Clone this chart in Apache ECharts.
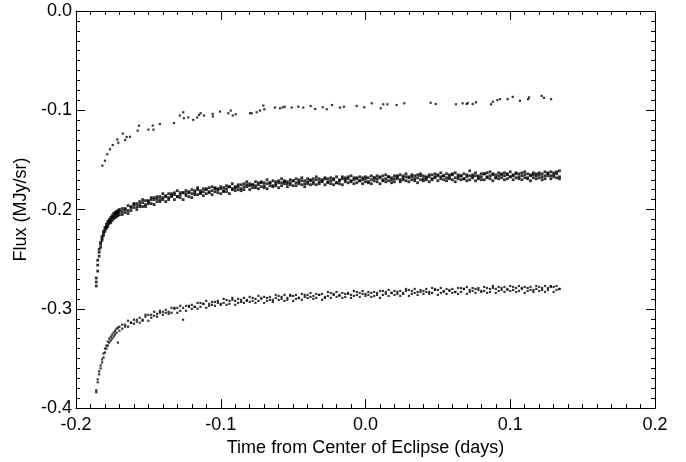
<!DOCTYPE html>
<html>
<head>
<meta charset="utf-8">
<script src="https://cdn.jsdelivr.net/npm/echarts@6/dist/echarts.min.js"></script>
<style>
html, body { margin: 0; padding: 0; background: #fff; }
#chart { width: 686px; height: 462px; }
</style>
</head>
<body>
<div id="chart"></div>
<script>
// Eclipse light curves.
// Time samples (days from center of eclipse) shared by the two dense bands
var times = [
    -0.186,-0.185,-0.184,-0.183,-0.182,-0.181,-0.180,-0.179,-0.178,-0.177,-0.176,-0.175,-0.174,-0.173,-0.172,-0.171,-0.170,
    -0.168,-0.166,-0.164,-0.162,-0.160,-0.158,-0.156,-0.154,-0.152,-0.150,
    -0.148,-0.146,-0.144,-0.142,-0.140,-0.138,-0.136,-0.134,-0.132,-0.130,
    -0.128,-0.126,-0.124,-0.122,-0.120,-0.118,-0.116,-0.114,-0.112,-0.110,
    -0.108,-0.106,-0.104,-0.102,-0.100,-0.098,-0.096,-0.094,-0.092,-0.090,
    -0.088,-0.086,-0.084,-0.082,-0.080,-0.078,-0.076,-0.074,-0.072,-0.070,
    -0.068,-0.066,-0.064,-0.062,-0.060,-0.058,-0.056,-0.054,-0.052,-0.050,
    -0.048,-0.046,-0.044,-0.042,-0.040,-0.038,-0.036,-0.034,-0.032,-0.030,
    -0.028,-0.026,-0.024,-0.022,-0.020,-0.018,-0.016,-0.014,-0.012,-0.010,
    -0.008,-0.006,-0.004,-0.002,0.000,0.002,0.004,0.006,0.008,0.010,
    0.012,0.014,0.016,0.018,0.020,0.022,0.024,0.026,0.028,0.030,
    0.032,0.034,0.036,0.038,0.040,0.042,0.044,0.046,0.048,0.050,
    0.052,0.054,0.056,0.058,0.060,0.062,0.064,0.066,0.068,0.070,
    0.072,0.074,0.076,0.078,0.080,0.082,0.084,0.086,0.088,0.090,
    0.092,0.094,0.096,0.098,0.100,0.102,0.104,0.106,0.108,0.110,
    0.112,0.114,0.116,0.118,0.120,0.122,0.124,0.126,0.128,0.130,
    0.132,0.134
];

// middle band (three overlapping channels)
var midA = [
    -0.277,-0.262,-0.247,-0.238,-0.231,-0.226,-0.222,-0.219,-0.217,-0.214,-0.213,-0.211,-0.209,-0.208,-0.207,-0.206,-0.205,
    -0.199,-0.199,-0.196,-0.197,-0.194,-0.194,-0.192,-0.190,-0.191,-0.191,
    -0.188,-0.188,-0.187,-0.187,-0.184,-0.187,-0.184,-0.184,-0.183,-0.181,
    -0.183,-0.183,-0.181,-0.182,-0.180,-0.181,-0.178,-0.181,-0.179,-0.179,
    -0.178,-0.177,-0.178,-0.179,-0.177,-0.178,-0.176,-0.177,-0.174,-0.177,
    -0.175,-0.175,-0.174,-0.172,-0.174,-0.175,-0.172,-0.173,-0.172,-0.173,
    -0.170,-0.173,-0.171,-0.172,-0.171,-0.169,-0.171,-0.172,-0.170,-0.171,
    -0.169,-0.170,-0.168,-0.171,-0.169,-0.170,-0.169,-0.167,-0.169,-0.170,
    -0.168,-0.169,-0.168,-0.169,-0.167,-0.170,-0.167,-0.168,-0.167,-0.166,
    -0.168,-0.169,-0.167,-0.168,-0.167,-0.168,-0.166,-0.168,-0.166,-0.167,
    -0.166,-0.165,-0.167,-0.168,-0.166,-0.166,-0.165,-0.166,-0.164,-0.167,
    -0.165,-0.166,-0.165,-0.164,-0.166,-0.167,-0.165,-0.165,-0.164,-0.165,
    -0.163,-0.166,-0.164,-0.165,-0.164,-0.163,-0.165,-0.166,-0.164,-0.165,
    -0.161,-0.165,-0.163,-0.166,-0.164,-0.164,-0.163,-0.162,-0.164,-0.165,
    -0.163,-0.164,-0.163,-0.164,-0.162,-0.165,-0.163,-0.164,-0.163,-0.162,
    -0.164,-0.165,-0.163,-0.164,-0.163,-0.164,-0.162,-0.164,-0.162,-0.163,
    -0.162,-0.161
];
var midB = [
    -0.273,-0.256,-0.243,-0.235,-0.229,-0.224,-0.220,-0.217,-0.214,-0.212,-0.210,-0.208,-0.207,-0.205,-0.204,-0.203,-0.202,
    -0.202,-0.200,-0.201,-0.198,-0.195,-0.197,-0.195,-0.193,-0.195,-0.192,
    -0.190,-0.190,-0.189,-0.190,-0.188,-0.186,-0.188,-0.186,-0.185,-0.187,
    -0.185,-0.183,-0.184,-0.183,-0.184,-0.183,-0.180,-0.183,-0.182,-0.180,
    -0.183,-0.181,-0.179,-0.180,-0.179,-0.181,-0.179,-0.177,-0.179,-0.178,
    -0.177,-0.179,-0.177,-0.175,-0.176,-0.175,-0.176,-0.175,-0.173,-0.176,
    -0.174,-0.173,-0.176,-0.174,-0.173,-0.173,-0.172,-0.174,-0.173,-0.171,
    -0.173,-0.172,-0.171,-0.174,-0.172,-0.171,-0.172,-0.170,-0.172,-0.171,
    -0.169,-0.172,-0.171,-0.170,-0.173,-0.171,-0.169,-0.170,-0.169,-0.171,
    -0.170,-0.168,-0.171,-0.170,-0.169,-0.172,-0.170,-0.168,-0.169,-0.168,
    -0.170,-0.169,-0.167,-0.170,-0.169,-0.167,-0.170,-0.168,-0.167,-0.168,
    -0.167,-0.169,-0.168,-0.166,-0.169,-0.168,-0.167,-0.169,-0.167,-0.166,
    -0.167,-0.166,-0.168,-0.167,-0.165,-0.168,-0.167,-0.166,-0.169,-0.167,
    -0.166,-0.167,-0.166,-0.168,-0.167,-0.164,-0.167,-0.166,-0.165,-0.168,
    -0.166,-0.165,-0.166,-0.165,-0.167,-0.166,-0.164,-0.167,-0.166,-0.165,
    -0.168,-0.166,-0.165,-0.166,-0.165,-0.167,-0.166,-0.163,-0.166,-0.165,
    -0.164,-0.167
];
var midC = [
    -0.269,-0.251,-0.240,-0.233,-0.227,-0.222,-0.218,-0.215,-0.212,-0.210,-0.208,-0.206,-0.204,-0.203,-0.202,-0.201,-0.200,
    -0.205,-0.203,-0.204,-0.201,-0.198,-0.200,-0.197,-0.197,-0.197,-0.194,
    -0.194,-0.195,-0.192,-0.192,-0.190,-0.192,-0.190,-0.187,-0.190,-0.187,
    -0.188,-0.190,-0.186,-0.187,-0.188,-0.185,-0.185,-0.184,-0.186,-0.184,
    -0.182,-0.185,-0.182,-0.183,-0.184,-0.182,-0.182,-0.184,-0.180,-0.181,
    -0.180,-0.181,-0.180,-0.177,-0.180,-0.178,-0.178,-0.179,-0.177,-0.178,
    -0.179,-0.176,-0.177,-0.176,-0.178,-0.176,-0.174,-0.177,-0.175,-0.176,
    -0.176,-0.174,-0.175,-0.177,-0.174,-0.175,-0.174,-0.175,-0.174,-0.172,
    -0.175,-0.173,-0.174,-0.175,-0.173,-0.174,-0.175,-0.172,-0.173,-0.172,
    -0.174,-0.173,-0.171,-0.174,-0.172,-0.173,-0.174,-0.171,-0.172,-0.174,
    -0.171,-0.172,-0.171,-0.173,-0.172,-0.169,-0.172,-0.170,-0.171,-0.172,
    -0.170,-0.171,-0.173,-0.170,-0.171,-0.170,-0.172,-0.170,-0.168,-0.171,
    -0.169,-0.170,-0.171,-0.169,-0.170,-0.172,-0.169,-0.170,-0.169,-0.171,
    -0.170,-0.168,-0.171,-0.169,-0.170,-0.170,-0.168,-0.169,-0.171,-0.168,
    -0.169,-0.168,-0.170,-0.169,-0.167,-0.170,-0.168,-0.169,-0.170,-0.168,
    -0.169,-0.171,-0.168,-0.169,-0.168,-0.170,-0.169,-0.166,-0.169,-0.167,
    -0.168,-0.169
];

// lower band (two channels)
var botD = [
    -0.382,-0.371,-0.363,-0.357,-0.351,-0.345,-0.340,-0.337,-0.333,-0.330,-0.328,-0.326,-0.324,-0.322,-0.320,-0.319,-0.318,
    -0.316,-0.316,-0.312,-0.314,-0.311,-0.311,-0.309,-0.311,-0.306,-0.306,
    -0.306,-0.303,-0.305,-0.302,-0.303,-0.301,-0.303,-0.299,-0.299,-0.299,
    -0.297,-0.299,-0.297,-0.297,-0.296,-0.298,-0.294,-0.294,-0.295,-0.292,
    -0.295,-0.293,-0.293,-0.292,-0.295,-0.290,-0.291,-0.292,-0.289,-0.292,
    -0.290,-0.291,-0.289,-0.292,-0.288,-0.289,-0.290,-0.287,-0.290,-0.288,
    -0.289,-0.288,-0.291,-0.286,-0.287,-0.288,-0.286,-0.289,-0.286,-0.287,
    -0.286,-0.289,-0.285,-0.286,-0.286,-0.284,-0.287,-0.285,-0.286,-0.285,
    -0.288,-0.283,-0.284,-0.285,-0.283,-0.286,-0.284,-0.285,-0.284,-0.286,
    -0.282,-0.283,-0.284,-0.282,-0.285,-0.283,-0.284,-0.283,-0.286,-0.282,
    -0.282,-0.283,-0.281,-0.284,-0.282,-0.283,-0.282,-0.284,-0.280,-0.281,
    -0.282,-0.280,-0.283,-0.281,-0.282,-0.280,-0.283,-0.279,-0.280,-0.281,
    -0.279,-0.282,-0.280,-0.281,-0.280,-0.283,-0.279,-0.279,-0.280,-0.278,
    -0.281,-0.279,-0.280,-0.279,-0.282,-0.278,-0.279,-0.280,-0.277,-0.280,
    -0.278,-0.279,-0.278,-0.281,-0.277,-0.278,-0.279,-0.277,-0.280,-0.278,
    -0.279,-0.278,-0.281,-0.277,-0.278,-0.279,-0.277,-0.279,-0.277,-0.278,
    -0.277,-0.280
];
var botE = [
    -0.384,-0.374,-0.366,-0.360,-0.354,-0.349,-0.344,-0.340,-0.337,-0.334,-0.332,-0.330,-0.328,-0.326,-0.324,-0.334,-0.322,
    -0.320,-0.318,-0.318,-0.314,-0.315,-0.313,-0.314,-0.312,-0.308,-0.312,
    -0.309,-0.307,-0.308,-0.304,-0.306,-0.304,-0.305,-0.304,-0.300,-0.304,
    -0.302,-0.311,-0.302,-0.298,-0.300,-0.298,-0.300,-0.298,-0.295,-0.299,
    -0.297,-0.296,-0.297,-0.294,-0.296,-0.294,-0.296,-0.295,-0.291,-0.296,
    -0.294,-0.293,-0.294,-0.291,-0.293,-0.292,-0.294,-0.292,-0.289,-0.294,
    -0.292,-0.291,-0.293,-0.289,-0.291,-0.290,-0.292,-0.291,-0.287,-0.292,
    -0.290,-0.289,-0.291,-0.288,-0.289,-0.288,-0.290,-0.289,-0.286,-0.291,
    -0.289,-0.287,-0.289,-0.286,-0.288,-0.287,-0.289,-0.288,-0.285,-0.289,
    -0.287,-0.286,-0.288,-0.285,-0.287,-0.286,-0.288,-0.287,-0.284,-0.289,
    -0.286,-0.285,-0.287,-0.284,-0.286,-0.285,-0.287,-0.285,-0.282,-0.287,
    -0.285,-0.284,-0.286,-0.283,-0.285,-0.283,-0.285,-0.284,-0.281,-0.286,
    -0.284,-0.283,-0.285,-0.282,-0.284,-0.283,-0.285,-0.283,-0.280,-0.285,
    -0.283,-0.282,-0.284,-0.281,-0.283,-0.282,-0.284,-0.283,-0.279,-0.284,
    -0.282,-0.281,-0.283,-0.280,-0.282,-0.281,-0.283,-0.282,-0.279,-0.284,
    -0.282,-0.281,-0.283,-0.280,-0.282,-0.281,-0.283,-0.281,-0.278,-0.283,
    -0.281,-0.280
];

// upper, sparse series
var topTimes = [
    -0.1818,-0.1800,-0.1784,-0.1765,-0.1746,-0.1715,-0.1708,-0.1677,-0.1661,-0.1650,
    -0.1627,-0.1574,-0.1565,-0.1500,-0.1470,-0.1465,-0.1420,-0.1323,-0.1282,-0.1259,
    -0.1255,-0.1224,-0.1190,-0.1162,-0.1150,-0.1139,-0.1116,-0.1056,-0.1054,-0.1005,
    -0.0948,-0.0931,-0.0917,-0.0897,-0.0798,-0.0786,-0.0752,-0.0729,-0.0706,-0.0699,
    -0.0625,-0.0590,-0.0572,-0.0558,-0.0510,-0.0464,-0.0430,-0.0379,-0.0347,-0.0296,
    -0.0268,-0.0231,-0.0176,-0.0149,-0.0061,-0.0008,0.0043,0.0105,0.0123,0.0151,
    0.0215,0.0268,0.0450,0.0485,0.0625,0.0671,0.0699,0.0706,0.0741,0.0763,
    0.0867,0.0879,0.0911,0.0929,0.0982,0.1017,0.1067,0.1123,0.1130,0.1217,
    0.1233,0.1282
];
var topFlux = [
    -0.1558,-0.1508,-0.1443,-0.1393,-0.1350,-0.1294,-0.1327,-0.1235,-0.1300,-0.1270,
    -0.1267,-0.1205,-0.1155,-0.1195,-0.1155,-0.1195,-0.1139,-0.1129,-0.1053,-0.1020,
    -0.1080,-0.1072,-0.1096,-0.1072,-0.1046,-0.1030,-0.1053,-0.1036,-0.1062,-0.1013,
    -0.1030,-0.1003,-0.1053,-0.1040,-0.1030,-0.1030,-0.1020,-0.1003,-0.0953,-0.0990,
    -0.0973,-0.0980,-0.0970,-0.0964,-0.0973,-0.0964,-0.0973,-0.0957,-0.0987,-0.0970,
    -0.0990,-0.0947,-0.0973,-0.0964,-0.0957,-0.0970,-0.0930,-0.0980,-0.0940,-0.0940,
    -0.0947,-0.0930,-0.0924,-0.0937,-0.0940,-0.0930,-0.0937,-0.0927,-0.0937,-0.0920,
    -0.0940,-0.0914,-0.0898,-0.0888,-0.0888,-0.0865,-0.0904,-0.0888,-0.0871,-0.0855,
    -0.0875,-0.0888
];

var xTicks = [-0.2, -0.1, 0.0, 0.1, 0.2];
var yTicks = [-0.4, -0.3, -0.2, -0.1, 0.0];

(function() {
    'use strict';

    var font = '"Liberation Sans", Arial, Helvetica, sans-serif';
    var black = { color: '#000', width: 1 };

    function pairs(xs, ys) {
        return xs.map(function(x, i) { return [x, ys[i]]; });
    }

    var midData = pairs(times, midA).concat(pairs(times, midB), pairs(times, midC));
    var botData = pairs(times, botD).concat(pairs(times, botE));
    var topData = pairs(topTimes, topFlux);

    function fmt(v) { return (Math.abs(v) < 1e-9 ? 0 : v).toFixed(1); }

    // IDL-style frame: ticks pointing inward on all four sides
    function frameAxis(ticks, position, showLabels, margin) {
        return {
            type: 'value',
            position: position,
            min: ticks[0],
            max: ticks[ticks.length - 1],
            interval: 0.1,
            axisLine: { show: true, onZero: false, lineStyle: black },
            axisTick: { show: true, inside: true, length: 9, lineStyle: black },
            minorTick: { show: true, splitNumber: 10, length: 4, lineStyle: black },
            splitLine: { show: false },
            minorSplitLine: { show: false },
            axisLabel: { show: showLabels, margin: margin, color: '#000', fontFamily: font, fontSize: 18, formatter: fmt }
        };
    }

    var xBottom = frameAxis(xTicks, 'bottom', true, 8);
    xBottom.name = 'Time from Center of Eclipse (days)';
    xBottom.nameLocation = 'middle';
    xBottom.nameGap = 28;
    xBottom.nameTextStyle = { color: '#000', fontFamily: font, fontSize: 18 };

    var yLeft = frameAxis(yTicks, 'left', true, 4);
    yLeft.name = 'Flux (MJy/sr)';
    yLeft.nameLocation = 'middle';
    yLeft.nameGap = 45;
    yLeft.nameTextStyle = { color: '#000', fontFamily: font, fontSize: 18 };

    function dots(data, size) {
        return {
            type: 'scatter',
            data: data,
            symbol: 'rect',
            symbolSize: size,
            itemStyle: { color: '#000' },
            silent: true
        };
    }

    var chart = echarts.init(document.getElementById('chart'));
    chart.setOption({
        animation: false,
        backgroundColor: '#fff',
        grid: { left: 76, right: 31, top: 11, bottom: 47 },
        xAxis: [xBottom, frameAxis(xTicks, 'top', false, 8)],
        yAxis: [yLeft, frameAxis(yTicks, 'right', false, 4)],
        series: [
            dots(midData, 2.8),
            dots(botData, 2.2),
            dots(topData, 2.2)
        ]
    });
})();
</script>
</body>
</html>
